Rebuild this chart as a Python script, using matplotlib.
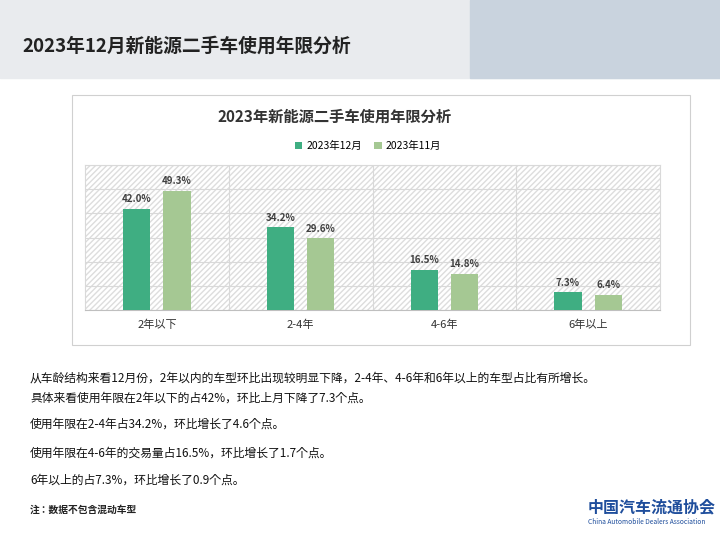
import matplotlib
matplotlib.use("Agg")
import matplotlib.pyplot as plt
from matplotlib.patches import Rectangle

plt.rcParams["font.family"] = ["Noto Sans CJK SC", "Noto Sans CJK JP", "Noto Sans CJK TC", "DejaVu Sans"]

categories = ["2年以下", "2-4年", "4-6年", "6年以上"]
dec = [42.0, 34.2, 16.5, 7.3]
nov = [49.3, 29.6, 14.8, 6.4]
series_names = ["2023年12月", "2023年11月"]
c1, c2 = "#3fae82", "#a5c893"

fig = plt.figure(figsize=(7.2, 5.4), dpi=100)
W, H = 720, 540
def fx(x): return x / W
def fy(y): return 1 - y / H

fig.patches.append(Rectangle((0, fy(78)), 1, 78 / H, transform=fig.transFigure, color="#e9ebee", zorder=0))
fig.patches.append(Rectangle((fx(470), fy(78)), 250 / W, 78 / H, transform=fig.transFigure, color="#c9d3de", zorder=0))
fig.text(fx(22), fy(46), "2023年12月新能源二手车使用年限分析", fontsize=13.5, fontweight="bold", va="center", color="#222")
fig.patches.append(Rectangle((fx(72), fy(345)), 618 / W, 250 / H, transform=fig.transFigure, fill=False, ec="#d0d0d0", lw=0.8))
fig.text(fx(335), fy(117), "2023年新能源二手车使用年限分析", fontsize=11, fontweight="bold", ha="center", va="center", color="#333")

ax = fig.add_axes([fx(85), fy(310), (660 - 85) / W, (310 - 165) / H])
ax.set_xlim(-0.5, 3.5)
ax.set_ylim(0, 60)
ax.add_patch(Rectangle((-0.5, 0), 4, 60, hatch="//////", fill=False, ec="#dddddd", lw=0, zorder=0))
ax.set_yticks(range(0, 61, 10))
ax.yaxis.grid(True, color="#d9d9d9", lw=0.8)
ax.set_axisbelow(True)
for x in [0.5, 1.5, 2.5]:
    ax.axvline(x, color="#d9d9d9", lw=0.8)
for s in ["top", "right", "left"]:
    ax.spines[s].set_color("#d9d9d9")
ax.spines["bottom"].set_color("#bfbfbf")
ax.tick_params(left=False, labelleft=False, bottom=False)
ax.set_xticks(range(4))
ax.set_xticklabels(categories, fontsize=8, color="#333")
w = 0.19
b1 = ax.bar([i - 0.14 for i in range(4)], dec, w, color=c1, label=series_names[0], zorder=3)
b2 = ax.bar([i + 0.14 for i in range(4)], nov, w, color=c2, label=series_names[1], zorder=3)
for bars, vals in [(b1, dec), (b2, nov)]:
    for b, v in zip(bars, vals):
        ax.text(b.get_x() + b.get_width() / 2, v + 2, f"{v:.1f}%", ha="center", va="bottom", fontsize=7, fontweight="bold", color="#404040")
fig.legend(handles=[b1, b2], loc="center", bbox_to_anchor=(fx(368), fy(146)), ncol=2, frameon=False,
           fontsize=7.5, handlelength=0.7, handleheight=0.7, columnspacing=1.2, handletextpad=0.4)

lines = [
    (378, "从车龄结构来看12月份，2年以内的车型环比出现较明显下降，2-4年、4-6年和6年以上的车型占比有所增长。"),
    (398, "具体来看使用年限在2年以下的占42%，环比上月下降了7.3个点。"),
    (424, "使用年限在2-4年占34.2%，环比增长了4.6个点。"),
    (453, "使用年限在4-6年的交易量占16.5%，环比增长了1.7个点。"),
    (480, "6年以上的占7.3%，环比增长了0.9个点。"),
]
for y, t in lines:
    fig.text(fx(30), fy(y), t, fontsize=8.5, va="center", color="#111")
fig.text(fx(30), fy(510), "注：数据不包含混动车型", fontsize=7, fontweight="bold", va="center", color="#222")
fig.text(fx(588), fy(507), "中国汽车流通协会", fontsize=11.5, fontweight="bold", va="center", color="#1f4e9c")
fig.text(fx(588), fy(522), "China Automobile Dealers Association", fontsize=4.8, va="center", color="#1f4e9c")
fig.savefig("out.png", dpi=100)
